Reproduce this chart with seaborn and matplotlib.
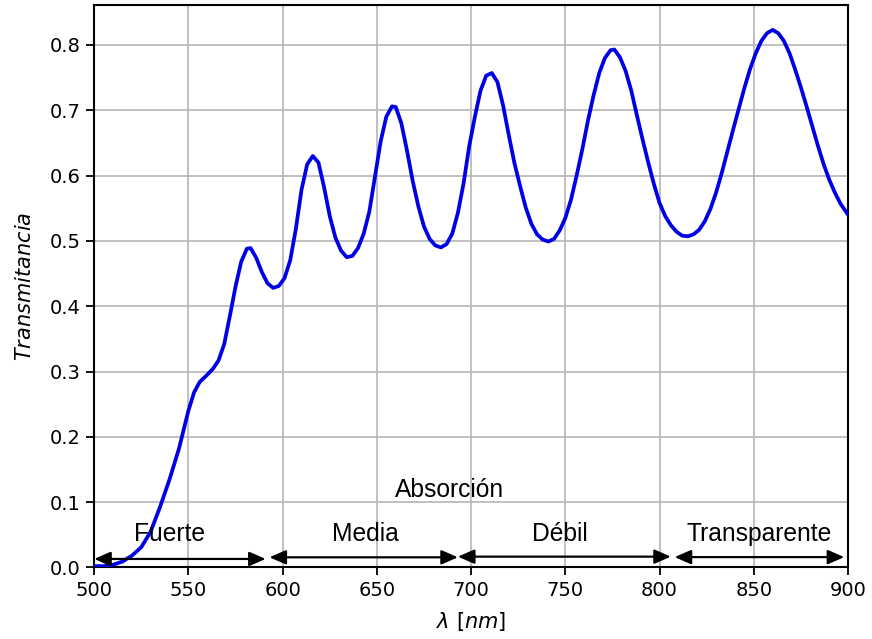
import matplotlib
matplotlib.use("Agg")
import matplotlib.pyplot as plt
import seaborn as sns
import pandas as pd

# Transmittance spectrum (wavelength in nm, transmittance 0-1)
wavelength = [
    500, 505, 510, 515, 520, 525, 530, 535, 540, 545, 550, 553, 556, 560, 563,
    566, 569, 572, 575, 578, 581, 583, 586, 589, 592, 595, 598, 601, 604, 607,
    610, 613, 616, 619, 622, 625, 628, 631, 634, 637, 640, 643, 646, 649, 652,
    655, 658, 660, 663, 666, 669, 672, 675, 678, 681, 684, 687, 690, 693, 696,
    699, 702, 705, 708, 711, 714, 717, 720, 723, 726, 729, 732, 735, 738, 741,
    744, 747, 750, 753, 756, 759, 762, 765, 768, 771, 774, 776, 779, 782, 785,
    788, 791, 794, 797, 800, 803, 806, 809, 812, 815, 818, 821, 824, 827, 830,
    833, 836, 839, 842, 845, 848, 851, 854, 857, 860, 863, 866, 869, 872, 875,
    878, 881, 884, 887, 890, 893, 896, 900,
]
transmittance = [
    0.002, 0.002, 0.004, 0.009, 0.018, 0.031, 0.055, 0.093, 0.135, 0.182,
    0.240, 0.268, 0.284, 0.295, 0.304, 0.317, 0.342, 0.385, 0.430, 0.468,
    0.488, 0.489, 0.474, 0.452, 0.435, 0.428, 0.431, 0.443, 0.470, 0.518,
    0.578, 0.617, 0.630, 0.620, 0.582, 0.538, 0.505, 0.485, 0.475, 0.477,
    0.489, 0.511, 0.545, 0.598, 0.652, 0.690, 0.706, 0.705, 0.680, 0.638,
    0.592, 0.553, 0.522, 0.503, 0.493, 0.490, 0.495, 0.511, 0.543, 0.588,
    0.645, 0.690, 0.730, 0.753, 0.757, 0.743, 0.707, 0.662, 0.619, 0.584,
    0.551, 0.526, 0.510, 0.502, 0.499, 0.503, 0.516, 0.535, 0.563, 0.600,
    0.640, 0.684, 0.723, 0.757, 0.780, 0.792, 0.793, 0.781, 0.760, 0.730,
    0.692, 0.655, 0.620, 0.587, 0.558, 0.538, 0.524, 0.514, 0.508, 0.507,
    0.510, 0.517, 0.530, 0.549, 0.574, 0.604, 0.637, 0.670, 0.702, 0.734,
    0.763, 0.787, 0.806, 0.818, 0.823, 0.818, 0.806, 0.787, 0.762, 0.735,
    0.706, 0.676, 0.646, 0.618, 0.594, 0.574, 0.557, 0.540,
]

# Absorption regions: label, label centre, arrow start/end (nm)
region_labels = ["Fuerte", "Media", "Débil", "Transparente"]
region_centres = [540, 644, 747, 853]
region_starts = [500, 593, 693, 808]
region_ends = [591, 693, 806, 898]

x_ticks = [500, 550, 600, 650, 700, 750, 800, 850, 900]
y_ticks = [0.0, 0.1, 0.2, 0.3, 0.4, 0.5, 0.6, 0.7, 0.8]

df = pd.DataFrame({"wavelength": wavelength, "transmittance": transmittance})

sns.set_style("ticks")
plt.rcParams["font.family"] = ["DejaVu Sans"]
plt.rcParams["mathtext.fontset"] = "dejavusans"

fig = plt.figure(figsize=(8.72, 6.39), dpi=100)
ax = fig.add_axes([0.108, 0.112, 0.8645, 0.880])

sns.lineplot(data=df, x="wavelength", y="transmittance", ax=ax,
             color="#0000e6", linewidth=2.7, zorder=3)

ax.set_xlim(500, 900)
ax.set_ylim(0, 0.861)
ax.set_xticks(x_ticks)
ax.set_yticks(y_ticks)
ax.set_yticklabels([f"{v:.1f}" for v in y_ticks])
ax.grid(True, color="#b5b5b5", linewidth=1.2)
ax.set_axisbelow(True)

for side in ax.spines:
    ax.spines[side].set_color("black")
    ax.spines[side].set_linewidth(1.5)
ax.tick_params(axis="both", direction="out", length=6, width=1.3, pad=4,
               labelsize=14, colors="black")

ax.set_xlabel(r"$\lambda\ [nm]$", fontsize=15, labelpad=7, color="black")
ax.set_ylabel(r"$Transmitancia$", fontsize=15, labelpad=10, color="black")

# Region arrows and labels
arrow_y = [0.013, 0.0155, 0.0165, 0.0158]
for lab, xc, x0, x1, ya in zip(region_labels, region_centres,
                               region_starts, region_ends, arrow_y):
    ax.annotate("", xy=(x1, ya), xytext=(x0, ya),
                arrowprops=dict(arrowstyle="<|-|>,head_length=0.55,head_width=0.24",
                                color="black", lw=1.6, mutation_scale=18,
                                shrinkA=0, shrinkB=0),
                annotation_clip=False, zorder=4)
    ax.text(xc, 0.040, lab, ha="center", va="baseline", fontsize=17.7,
            family="Liberation Sans", color="black", zorder=5)

ax.text(688.5, 0.108, "Absorción", ha="center", va="baseline", fontsize=17.7,
        family="Liberation Sans", color="black", zorder=5)

fig.savefig("out.png", dpi=100)
